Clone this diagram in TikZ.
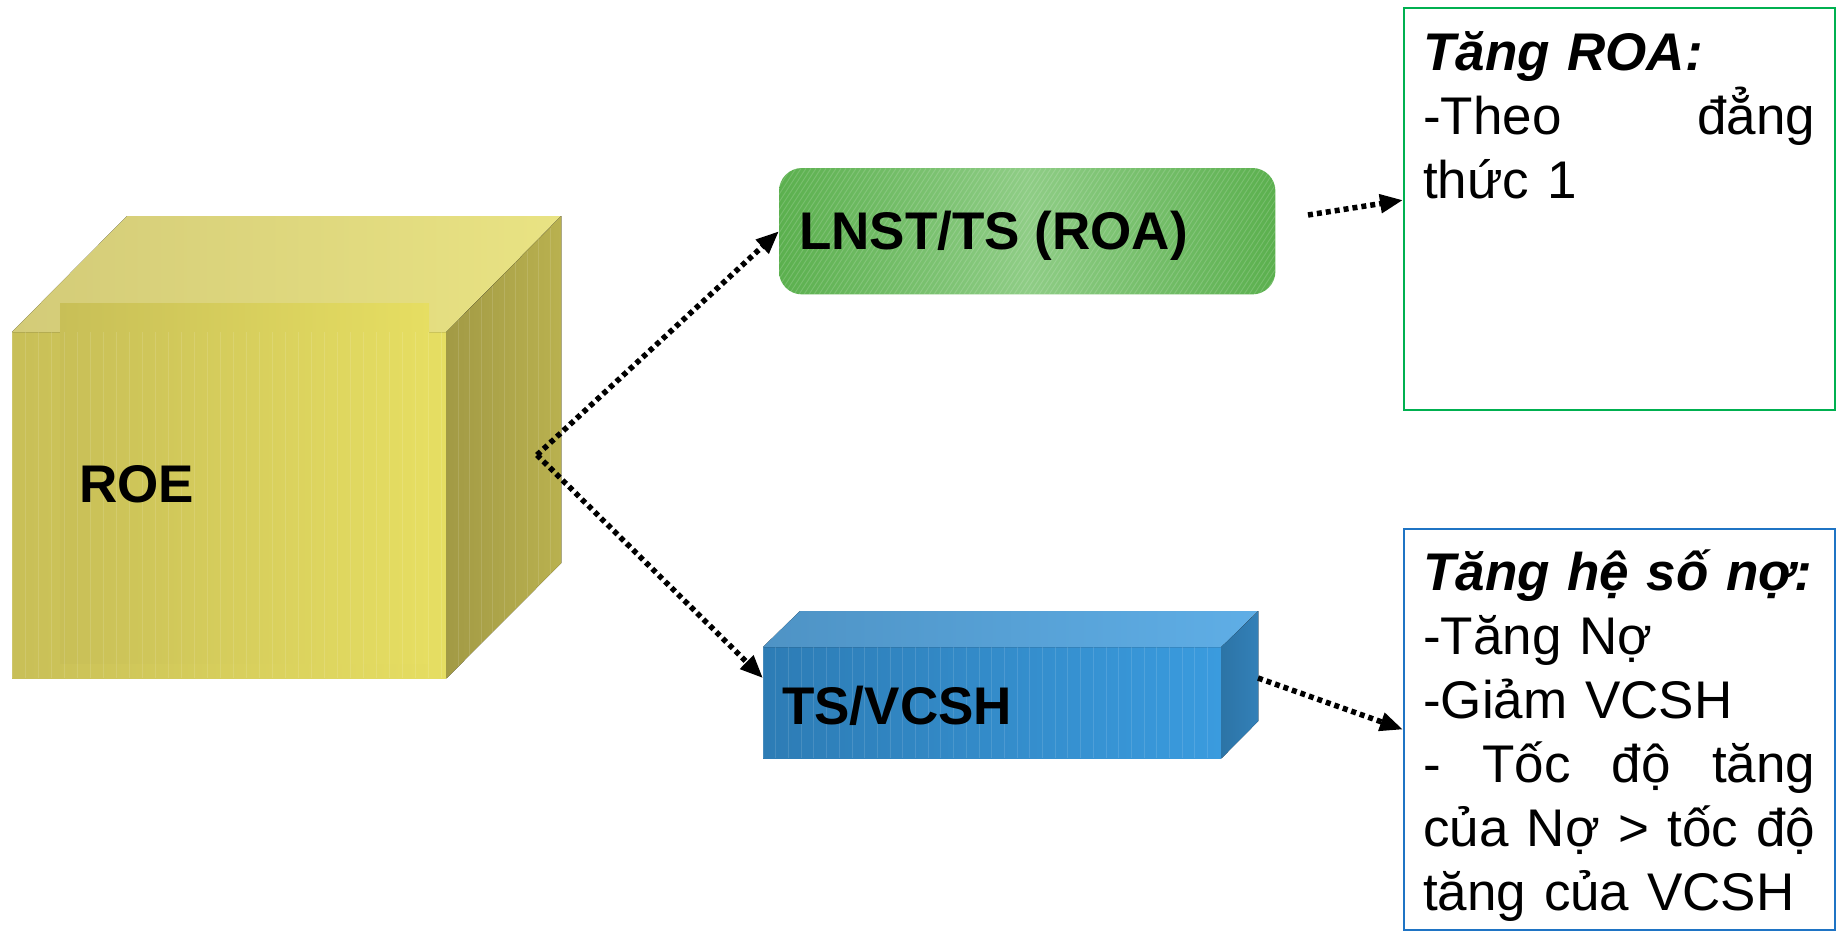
\documentclass[tikz,border=0pt]{standalone}
\usepackage{fontspec}
\setmainfont{Liberation Sans}
\usetikzlibrary{arrows.meta,calc}
\definecolor{cubeFL}{HTML}{C8BF57}
\definecolor{cubeFR}{HTML}{E6DE62}
\definecolor{cubeTL}{HTML}{D3CB78}
\definecolor{cubeTR}{HTML}{E9E383}
\definecolor{cubeRL}{HTML}{A29A45}
\definecolor{cubeRR}{HTML}{B9B14F}
\definecolor{greenD}{HTML}{5BB04E}
\definecolor{greenL}{HTML}{8FCD86}
\definecolor{roaborder}{HTML}{00B050}
\definecolor{blueFL}{HTML}{2D7CB5}
\definecolor{blueFR}{HTML}{3A9BDE}
\definecolor{blueTL}{HTML}{4E93C5}
\definecolor{blueTR}{HTML}{5FAEE6}
\definecolor{blueRL}{HTML}{2C74A6}
\definecolor{blueRR}{HTML}{3380B8}
\definecolor{debtborder}{HTML}{1F74C4}
\tikzset{
  bigbold/.style={font=\bfseries\fontsize{53}{60}\selectfont, inner sep=0pt, anchor=base west},
  bodytext/.style={font=\fontsize{53}{64}\selectfont, inner sep=0pt, anchor=base west, text width=392pt, align=left},
  facebox/.style={inner sep=0pt, anchor=north west, draw=none},
  infobox/.style={draw, line width=2pt, inner sep=0pt, anchor=north west, fill=white},
  dotarrow/.style={line width=5.5pt, dash pattern=on 5pt off 4pt, -{Triangle[length=23pt,width=18pt]}},
  stripes/.style={white, opacity=0.12, line width=0.8pt},
  hatch/.style={white, opacity=0.16, line width=0.9pt}
}
\begin{document}
\begin{tikzpicture}[x=1pt,y=-1pt]
\useasboundingbox[fill=white] (0,0) rectangle (1839,931);

% ---------- ROE cube ----------
\node[facebox, minimum width=434pt, minimum height=346pt, left color=cubeFL, right color=cubeFR] (roe) at (12,332) {};
\fill[left color=cubeTL, right color=cubeTR] (roe.north west) -- ++(115,-116) -- ++(434,0) -- (roe.north east) -- cycle;
\fill[left color=cubeRL, right color=cubeRR] (roe.north east) -- ++(115,-116) -- ++(0,347) -- (roe.south east) -- cycle;
\fill[left color=cubeFL, right color=cubeFR] (60,303) rectangle (429,663);
\foreach \i in {0,...,33} {\draw[stripes] ($(roe.north west)+(13*\i,0)$) -- ++(0,346);}
\foreach \i in {1,...,9} {\draw[stripes] ($(roe.north east)+(11.5*\i,-11.6*\i)$) -- ++(0,346);}
\node[bigbold] (roetxt) at (79,502) {ROE};

% ---------- LNST/TS (ROA) ----------
\node[facebox, minimum width=496pt, minimum height=126pt] (roa) at (779,168) {};
\shade[rounded corners=23pt, shading angle=60, left color=greenD, right color=greenD, middle color=greenL]
  (roa.north west) rectangle (roa.south east);
\begin{scope}
  \clip[rounded corners=23pt] (roa.north west) rectangle (roa.south east);
  \foreach \i in {0,...,125} {\draw[hatch] ($(roa.south west)+(-90+5*\i,0)$) -- ++(82,-126);}
\end{scope}
\node[bigbold] (roatxt) at (799,249) {LNST/TS (ROA)};

% ---------- TS/VCSH box ----------
\node[facebox, minimum width=458pt, minimum height=111pt, left color=blueFL, right color=blueFR] (tsv) at (763,647) {};
\fill[left color=blueTL, right color=blueTR] (tsv.north west) -- ++(37,-36) -- ++(458,0) -- (tsv.north east) -- cycle;
\fill[left color=blueRL, right color=blueRR] (tsv.north east) -- ++(37,-36) -- ++(0,110) -- (tsv.south east) -- cycle;
\foreach \i in {0,...,35} {\draw[stripes] ($(tsv.north west)+(12.7*\i,0)$) -- ++(0,111);}
\node[bigbold] (tsvtxt) at (782,724) {TS/VCSH};

% ---------- info boxes ----------
\node[infobox, draw=roaborder, minimum width=431pt, minimum height=402pt] (roabox) at (1403,7) {};
\node[bodytext] (roabody) at (1423,71)
  {{\bfseries\itshape Tăng ROA:}\\ -Theo\hfill đẳng\\ thức 1};

\node[infobox, draw=debtborder, minimum width=431pt, minimum height=401pt] (debtbox) at (1403,528) {};
\node[bodytext] (debtbody) at (1423,590)
  {{\bfseries\itshape Tăng hệ số nợ:}\\ -Tăng Nợ\\ -Giảm VCSH\\ -\hfill Tốc\hfill độ\hfill tăng\\ của\hfill Nợ\hfill >\hfill tốc\hfill độ\\ tăng của VCSH};

% ---------- connectors ----------
\coordinate (split) at (537,455);
\coordinate (roaout) at (1308,215);
\coordinate (tsvout) at (1258,678);
\draw[dotarrow] (split) -- (roa.west);
\draw[dotarrow] (split) -- ($(tsv.north west)!0.28!(tsv.south west)$);
\draw[dotarrow] (roaout) -- ($(roabox.north west)!0.478!(roabox.south west)$);
\draw[dotarrow] (tsvout) -- (debtbox.west);
\end{tikzpicture}
\end{document}
